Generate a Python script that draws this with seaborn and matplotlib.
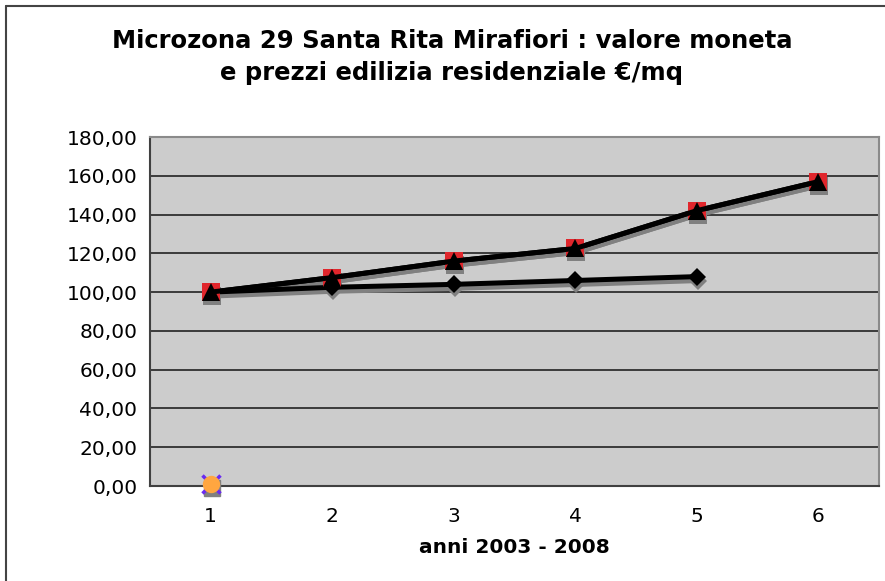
import numpy as np
import pandas as pd
import matplotlib
matplotlib.use("Agg")
import matplotlib.pyplot as plt
import matplotlib.transforms as mtransforms
from matplotlib.lines import Line2D
from matplotlib.ticker import FuncFormatter
import seaborn as sns

# --- dati ---
anni = [1, 2, 3, 4, 5, 6]
valore_moneta = [100.0, 102.5, 104.0, 106.0, 108.0]
prezzi_quadrati = [100.0, 107.5, 116.0, 122.5, 142.0, 157.0]
prezzi_triangoli = [100.0, 107.5, 116.0, 122.5, 142.0, 157.0]
serie_zero_x = [1]
serie_zero_y = [0.8]

TITOLO = "Microzona 29 Santa Rita Mirafiori : valore moneta\ne prezzi edilizia residenziale €/mq"
XLABEL = "anni 2003 - 2008"

sns.set_theme(style="white")
plt.rcParams["font.family"] = ["DejaVu Sans"]
plt.rcParams["text.color"] = "black"
plt.rcParams["axes.labelcolor"] = "black"

fig = plt.figure(figsize=(8.85, 5.81), dpi=100)
ax = fig.add_axes([150 / 885, 95 / 581, 729 / 885, 349 / 581])
ax.set_facecolor("#CCCCCC")

df_moneta = pd.DataFrame({"anno": anni[:len(valore_moneta)], "valore": valore_moneta})
df_quad = pd.DataFrame({"anno": anni, "valore": prezzi_quadrati})
df_tri = pd.DataFrame({"anno": anni, "valore": prezzi_triangoli})
df_zero = pd.DataFrame({"anno": serie_zero_x, "valore": serie_zero_y})

# ombra stile Excel: stessa serie spostata in basso a destra
ombra = mtransforms.offset_copy(ax.transData, fig=fig, x=1, y=-4, units="dots")
for d, m, ms in [(df_moneta, "D", 9.5), (df_quad, "s", 13.5), (df_tri, "^", 13.5)]:
    sns.lineplot(data=d, x="anno", y="valore", ax=ax, color="#808080", lw=3.6,
                 marker=m, markersize=ms, markeredgewidth=0, transform=ombra, zorder=3)

sns.lineplot(data=df_moneta, x="anno", y="valore", ax=ax, color="black", lw=3.6,
             marker="D", markersize=9.5, markeredgewidth=0, zorder=4)
sns.lineplot(data=df_quad, x="anno", y="valore", ax=ax, color="black", lw=3.6,
             marker="s", markersize=13.5, markerfacecolor="#E0262C", markeredgewidth=0, zorder=4)
sns.lineplot(data=df_tri, x="anno", y="valore", ax=ax, color="black", lw=3.6,
             marker="^", markersize=13.5, markerfacecolor="black", markeredgewidth=0, zorder=5)

# serie con valore quasi zero (x viola + cerchio arancio)
ax.plot(df_zero["anno"], df_zero["valore"], ls="none", marker="s", markersize=11,
        color="#808080", transform=ombra, zorder=3, clip_on=False)
ax.plot(df_zero["anno"], df_zero["valore"], ls="none", marker="x", markersize=13,
        markeredgewidth=2.5, color="#6A2BF0", zorder=4, clip_on=False)
ax.plot(df_zero["anno"], df_zero["valore"], ls="none", marker="o", markersize=12.5,
        markerfacecolor="#FFA640", markeredgewidth=0, zorder=5, clip_on=False)

ax.set_xlim(0.5, 6.5)
ax.set_ylim(0, 180)
ax.set_yticks(np.arange(0, 181, 20))
ax.yaxis.set_major_formatter(FuncFormatter(lambda v, p: f"{v:.2f}".replace(".", ",")))
ax.set_xticks(anni)
ax.set_xticks(np.arange(0.5, 6.6, 1), minor=True)
ax.tick_params(axis="x", which="major", length=0, pad=15, labelsize=14.5, colors="black")
ax.tick_params(axis="x", which="minor", length=5, width=1, direction="out", color="#333333")
ax.tick_params(axis="y", length=5, width=1, direction="out", color="#333333",
               labelsize=14.5, labelcolor="black", pad=4)
ax.yaxis.grid(True, color="#222222", lw=1.2)
ax.set_axisbelow(True)

for s in ["top", "right"]:
    ax.spines[s].set_color("#8A8A8A")
    ax.spines[s].set_linewidth(1.5)
for s in ["left", "bottom"]:
    ax.spines[s].set_color("#404040")
    ax.spines[s].set_linewidth(1.5)

ax.set_xlabel(XLABEL, fontsize=14.5, fontweight="bold", labelpad=9, color="black")
ax.set_ylabel("")
fig.text(452 / 885, 1 - 57 / 581, TITOLO, ha="center", va="center", fontsize=17.5,
         fontweight="bold", linespacing=1.4, color="black")

# cornice del grafico
fig.add_artist(Line2D([6 / 885, 6 / 885], [0, 1 - 6 / 581], transform=fig.transFigure,
                      color="#444444", lw=1.5))
fig.add_artist(Line2D([6 / 885, 1], [1 - 6 / 581, 1 - 6 / 581], transform=fig.transFigure,
                      color="#444444", lw=1.5))

fig.savefig("out.png", dpi=100)
